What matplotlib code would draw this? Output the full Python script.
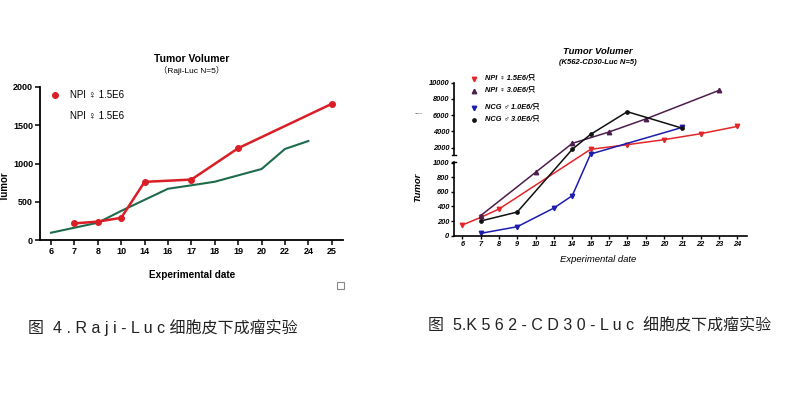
import numpy as np
import matplotlib.pyplot as plt
from matplotlib.patches import Rectangle

FONTS = ['Liberation Sans', 'DejaVu Sans', 'Noto Sans CJK SC']
plt.rcParams['font.family'] = FONTS

# ---- Figure 4 data (Raji-Luc) ----
raji_days = ['6', '7', '8', '10', '14', '16', '17', '18', '19', '20', '22', '24', '25']
raji_red_days = ['7', '8', '10', '14', '17', '19', '25']
raji_red_vals = [217, 240, 290, 760, 790, 1200, 1780]
raji_green_days = ['6', '8', '10', '16', '17', '18', '20', '22', '24']
raji_green_vals = [95, 226, 380, 670, 715, 762, 928, 1190, 1294]
raji_labels = ['NPI \u2640 1.5E6', 'NPI \u2640 1.5E6']

# ---- Figure 5 data (K562-CD30-Luc) ----
k562_days = ['6', '7', '8', '9', '10', '11', '14', '16', '17', '18', '19', '20', '21', '22', '23', '24']
npi15_days = ['6', '7', '8', '16', '18', '20', '22', '24']
npi15_vals = [146, 250, 365, 1800, 2370, 2985, 3720, 4620]
npi30_days = ['7', '10', '14', '17', '19', '23']
npi30_vals = [274, 868, 2530, 3930, 5530, 9050]
ncg10_days = ['7', '9', '11', '14', '16', '21']
ncg10_vals = [32, 123, 379, 548, 1220, 4500]
ncg30_days = ['7', '9', '14', '16', '18', '21']
ncg30_vals = [201, 324, 1800, 3640, 6430, 4400]
k562_labels = ['NPI \u2640 1.5E6/只', 'NPI \u2640 3.0E6/只', 'NCG \u2642 1.0E6/只', 'NCG \u2642 3.0E6/只']
k562_yticks = [0, 200, 400, 600, 800, 1000, 2000, 4000, 6000, 8000, 10000]

W, H = 795, 395
fig = plt.figure(figsize=(W / 100, H / 100), dpi=100)
fig.patch.set_facecolor('white')


def fx(px):
    return px / W


def fy(py):
    return 1 - py / H


def idx(days, cats):
    return [cats.index(d) for d in days]


# ================= left chart =================
ax1 = fig.add_axes([fx(40), fy(240), fx(303), 153 / H])
red1 = '#d91e26'
green1 = '#1e6b4c'
ax1.plot(idx(raji_green_days, raji_days), raji_green_vals, color=green1, lw=1.5)
ax1.plot(idx(raji_red_days, raji_days), raji_red_vals, color=red1, lw=1.8,
         marker='o', ms=4, clip_on=False)
ax1.set_xlim(-0.47, 12.48)
ax1.set_ylim(0, 2000)
ax1.set_xticks(range(len(raji_days)))
ax1.set_xticklabels(raji_days)
ax1.set_yticks([0, 500, 1000, 1500, 2000])
for s in ['top', 'right']:
    ax1.spines[s].set_visible(False)
for s in ['left', 'bottom']:
    ax1.spines[s].set_linewidth(1.3)
ax1.tick_params(axis='both', length=3.5, width=1.1, pad=1.5, labelsize=6.5)
for t in ax1.get_xticklabels() + ax1.get_yticklabels():
    t.set_fontweight('bold')

fig.text(fx(192), fy(59), 'Tumor Volumer', ha='center', va='center',
         fontsize=7.5, fontweight='bold')
fig.text(fx(192), fy(70), '（Raji-Luc N=5）', ha='center', va='center', fontsize=6)
fig.text(fx(192), fy(275), 'Experimental date', ha='center', va='center',
         fontsize=7.2, fontweight='bold')
fig.text(fx(5), fy(186), 'Tumor', rotation=90, ha='center', va='center',
         fontsize=7, fontweight='bold')

# legend
ax1.plot([fx(55)], [fy(95)], transform=fig.transFigure, marker='o', ms=4,
         color=red1, ls='none', clip_on=False)
fig.text(fx(70), fy(95), raji_labels[0], ha='left', va='center', fontsize=7)
fig.text(fx(70), fy(116), raji_labels[1], ha='left', va='center', fontsize=7)

fig.patches.append(Rectangle((fx(337), fy(289)), fx(7), 7 / H, transform=fig.transFigure,
                             fill=False, edgecolor='#888888', lw=0.8))

# ================= right chart =================
S = 0.11125


def fwd(y):
    y = np.asarray(y, dtype=float)
    return np.where(y <= 1000, y,
                    np.where(y <= 1100, 1000 + (y - 1000) * 1.05, 1105 + S * (y - 1100)))


def inv(g):
    g = np.asarray(g, dtype=float)
    return np.where(g <= 1000, g,
                    np.where(g <= 1105, 1000 + (g - 1000) / 1.05, 1100 + (g - 1105) / S))


ax2 = fig.add_axes([fx(454), fy(235.7), fx(293), 153 / H])
ax2.set_yscale('function', functions=(fwd, inv))
series = [
    (npi15_days, npi15_vals, '#e3262a', 'v', 3.2),
    (npi30_days, npi30_vals, '#4d1d4b', '^', 3.2),
    (ncg10_days, ncg10_vals, '#1c1cae', 'v', 3.2),
    (ncg30_days, ncg30_vals, '#111111', 'o', 2.4),
]
for days, vals, col, mk, ms in series:
    ax2.plot(idx(days, k562_days), vals, color=col, lw=1.1, marker=mk, ms=ms, clip_on=False)

ax2.set_xlim(-0.45, 15.53)
ax2.set_ylim(0, 10000)
ax2.set_xticks(range(len(k562_days)))
ax2.set_xticklabels(k562_days)
ax2.set_yticks(k562_yticks)
ax2.set_yticklabels([str(v) for v in k562_yticks])
ax2.minorticks_off()
for s in ['top', 'right', 'left']:
    ax2.spines[s].set_visible(False)
ax2.spines['bottom'].set_linewidth(1.2)
ax2.tick_params(axis='both', length=2.5, width=1.0, pad=1.0, labelsize=5.3)
for t in ax2.get_xticklabels() + ax2.get_yticklabels():
    t.set_fontweight('bold')
    t.set_fontstyle('italic')

# broken left spine
yt = ax2.get_yaxis_transform()
ax2.plot([0, 0], [0, 1014], transform=yt, color='black', lw=1.2, clip_on=False)
ax2.plot([0, 0], [1097, 10000], transform=yt, color='black', lw=1.2, clip_on=False)
ax2.plot([-0.008, 0.008], [1014, 1014], transform=yt, color='black', lw=1.0, clip_on=False)
ax2.plot([-0.008, 0.008], [1097, 1097], transform=yt, color='black', lw=1.0, clip_on=False)

fig.text(fx(598), fy(52), 'Tumor Volumer', ha='center', va='center',
         fontsize=6.8, fontstyle='italic', fontweight='bold')
fig.text(fx(598), fy(63), '(K562-CD30-Luc N=5)', ha='center', va='center',
         fontsize=5.5, fontstyle='italic', fontweight='bold')
fig.text(fx(598), fy(259), 'Experimental date', ha='center', va='center',
         fontsize=6.8, fontstyle='italic')
fig.text(fx(418), fy(187), 'Tumor', rotation=90, ha='center', va='center',
         fontsize=6.8, fontstyle='italic', fontweight='bold')
fig.text(fx(418), fy(112), '....', ha='center', va='center', fontsize=5)

leg_y = [79, 91, 108, 120]
for (days, vals, col, mk, ms), lab, ly in zip(series, k562_labels, leg_y):
    ax2.plot([fx(474)], [fy(ly)], transform=fig.transFigure, marker=mk, ms=ms,
             color=col, ls='none', clip_on=False)
    fig.text(fx(485), fy(ly), lab, ha='left', va='center', fontsize=5.3,
             fontstyle='italic', fontweight='bold')

# ================= captions =================
fig.text(fx(28), fy(328), '图  4 . R a j i - L u c 细胞皮下成瘤实验', ha='left', va='center',
         fontsize=11.5, color='#222222')
fig.text(fx(428), fy(326), '图  5.K 5 6 2 - C D 3 0 - L u c  细胞皮下成瘤实验', ha='left',
         va='center', fontsize=11.5, color='#222222')

fig.savefig('out.png', dpi=100, facecolor='white')
